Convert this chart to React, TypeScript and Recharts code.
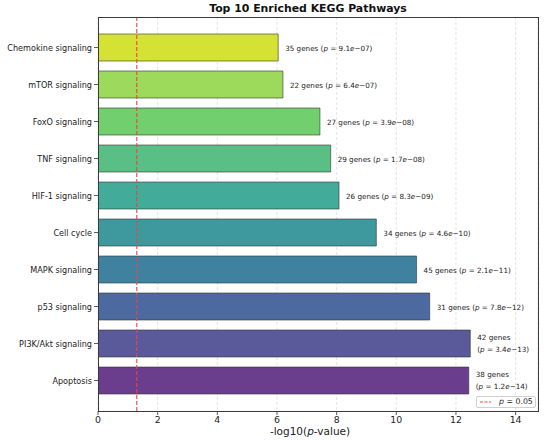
import React from "react";
import { BarChart, Bar, XAxis, YAxis, CartesianGrid, ReferenceLine, Cell } from "recharts";

const pathways = [
  "Chemokine signaling",
  "mTOR signaling",
  "FoxO signaling",
  "TNF signaling",
  "HIF-1 signaling",
  "Cell cycle",
  "MAPK signaling",
  "p53 signaling",
  "PI3K/Akt signaling",
  "Apoptosis",
];
const negLogP = [6.04, 6.2, 7.44, 7.8, 8.08, 9.33, 10.68, 11.12, 12.48, 12.43];
const geneCounts = [35, 22, 27, 29, 26, 34, 45, 31, 42, 38];
const pValues = ["9.1e-07", "6.4e-07", "3.9e-08", "1.7e-08", "8.3e-09", "4.6e-10", "2.1e-11", "7.8e-12", "3.4e-13", "1.2e-14"];
const barColors = ["#d3e233", "#9dd95a", "#72cf6e", "#5abf85", "#43ab9a", "#3e999f", "#3f82a0", "#4c69a0", "#5a5a9a", "#6b3d8d"];
const xTicks = [0, 2, 4, 6, 8, 10, 12, 14];
const threshold = 1.3;

const data = pathways.map((name, i) => ({ name, value: negLogP[i] }));

const FONT = "'DejaVu Sans', sans-serif";
const PLOT_LEFT = 98;
const PLOT_TOP = 17;
const PLOT_RIGHT = 538;
const PLOT_BOTTOM = 411;

const YTick = (props: any) => {
  const { x, y, payload } = props;
  return (
    <text x={x} y={y} textAnchor="end" dominantBaseline="central" fontSize={8.1} fontFamily={FONT} fill="#222">
      {payload.value}
    </text>
  );
};

const BarLabel = (props: any) => {
  const { x, y, width, height, index } = props;
  const [mant, exp] = pValues[index].split("e-");
  const lx = x + width + 7;
  const cy = y + height / 2;
  const fs = 7.2;
  const estWidth = 12.2 * fs;
  const wrap = lx + estWidth > PLOT_RIGHT;
  const pPart = (
    <>
      <tspan>(</tspan>
      <tspan fontStyle="italic">p</tspan>
      <tspan>{` = ${mant}`}</tspan>
      <tspan fontStyle="italic">e</tspan>
      <tspan>{`\u2212${exp})`}</tspan>
    </>
  );
  if (wrap) {
    return (
      <text x={lx} y={cy} fontSize={fs} fontFamily={FONT} fill="#222">
        <tspan x={lx} y={cy - 5.8} dominantBaseline="central">{`${geneCounts[index]} genes`}</tspan>
        <tspan x={lx} y={cy + 5.8} dominantBaseline="central">{pPart}</tspan>
      </text>
    );
  }
  return (
    <text x={lx} y={cy} fontSize={fs} fontFamily={FONT} fill="#222" dominantBaseline="central">
      <tspan>{`${geneCounts[index]} genes `}</tspan>
      {pPart}
    </text>
  );
};

export default function App() {
  return (
    <div style={{ position: "absolute", left: 0, top: 0, width: 550, height: 441, background: "#fff", fontFamily: FONT }}>
      <BarChart
        width={550}
        height={441}
        data={data}
        layout="vertical"
        margin={{ top: PLOT_TOP, right: 550 - PLOT_RIGHT, bottom: 0, left: 0 }}
      >
        <CartesianGrid horizontal={false} stroke="#d8d8d8" strokeDasharray="3 2" strokeWidth={0.7} />
        <XAxis
          type="number"
          domain={[0, 14.75]}
          ticks={xTicks}
          allowDataOverflow
          height={441 - PLOT_BOTTOM}
          axisLine={false}
          tickLine={{ stroke: "#333", strokeWidth: 0.8 }}
          tickSize={4}
          tickMargin={1}
          tick={{ fontSize: 9.4, fontFamily: FONT, fill: "#222" }}
        />
        <YAxis
          type="category"
          dataKey="name"
          width={PLOT_LEFT}
          padding={{ top: 12, bottom: 12 }}
          axisLine={false}
          tickLine={{ stroke: "#333", strokeWidth: 0.8 }}
          tickSize={4}
          tickMargin={2}
          interval={0}
          tick={<YTick />}
        />
        <Bar
          dataKey="value"
          barSize={27}
          isAnimationActive={false}
          stroke="#333"
          strokeWidth={0.8}
          strokeOpacity={0.75}
          label={(p: any) => <BarLabel {...p} />}
        >
          {data.map((d, i) => (
            <Cell key={d.name} fill={barColors[i]} />
          ))}
        </Bar>
        <ReferenceLine x={threshold} stroke="#ee4444" strokeWidth={1.1} strokeDasharray="4 2" />
      </BarChart>
      <div
        style={{
          position: "absolute",
          left: PLOT_LEFT - 0.5,
          top: PLOT_TOP - 0.5,
          width: PLOT_RIGHT - PLOT_LEFT + 1,
          height: PLOT_BOTTOM - PLOT_TOP + 1,
          border: "1px solid #3a3a3a",
          boxSizing: "border-box",
          pointerEvents: "none",
        }}
      />
      <div
        style={{
          position: "absolute",
          left: 208 - 100,
          width: 400,
          top: 2,
          textAlign: "center",
          fontSize: 10.9,
          fontWeight: "bold",
          color: "#111",
          lineHeight: "14px",
          whiteSpace: "nowrap",
        }}
      >
        Top 10 Enriched KEGG Pathways
      </div>
      <div
        style={{
          position: "absolute",
          left: 110,
          width: 400,
          top: 426,
          textAlign: "center",
          fontSize: 10.5,
          color: "#222",
          lineHeight: "11px",
          whiteSpace: "nowrap",
        }}
      >
        -log10(<i>p</i>-value)
      </div>
      <div
        style={{
          position: "absolute",
          left: 476,
          top: 395.5,
          width: 60,
          height: 12,
          border: "1px solid #d0d0d0",
          borderRadius: 2,
          boxSizing: "border-box",
          background: "rgba(255,255,255,0.85)",
          display: "flex",
          alignItems: "center",
          fontSize: 7.8,
          color: "#222",
        }}
      >
        <svg width={16} height={10} style={{ marginLeft: 2 }}>
          <line x1={1} y1={5} x2={12} y2={5} stroke="#ee4444" strokeWidth={1} strokeDasharray="3 1.5" />
        </svg>
        <span style={{ marginLeft: 4, whiteSpace: "nowrap" }}>
          <i>p</i> = 0.05
        </span>
      </div>
    </div>
  );
}
